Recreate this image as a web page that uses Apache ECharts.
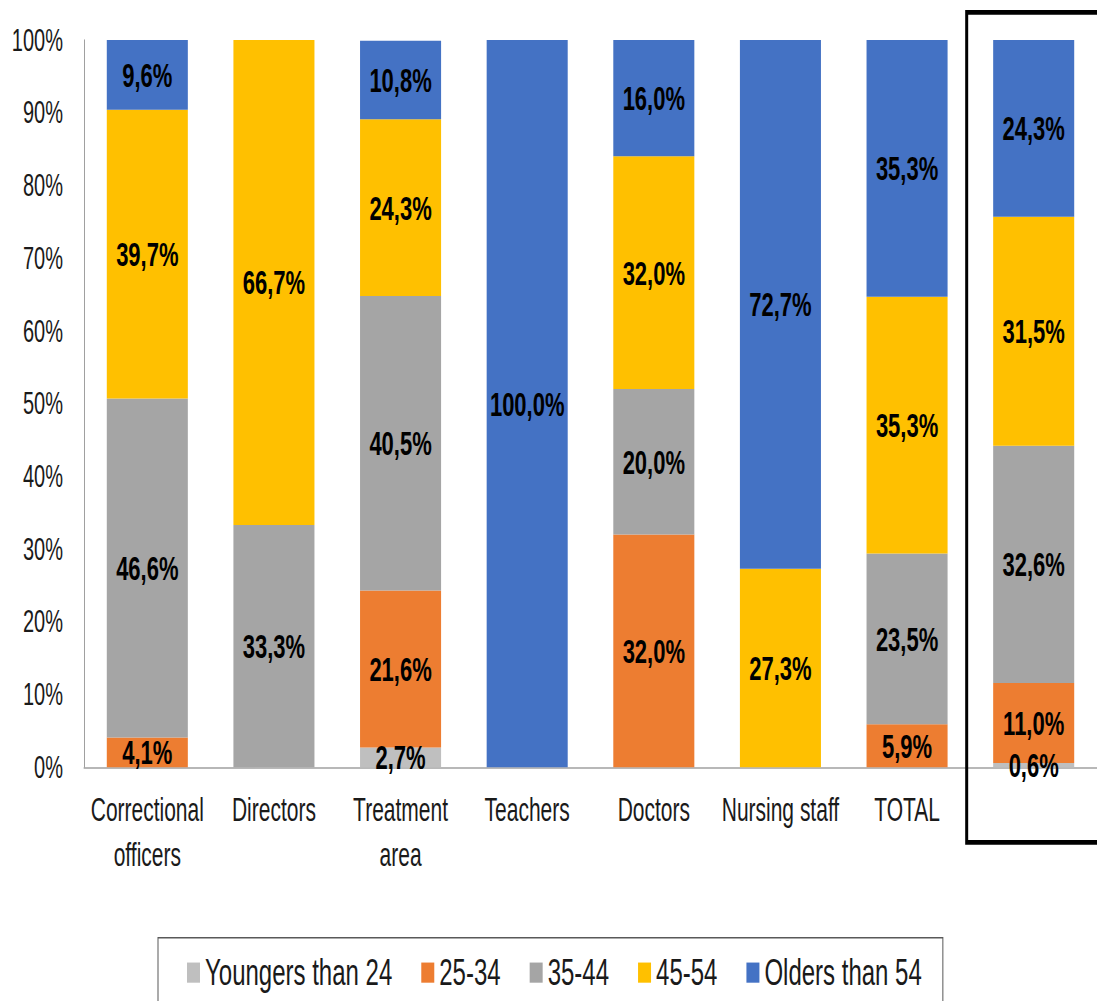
<!DOCTYPE html>
<html>
<head>
<meta charset="utf-8">
<script src="https://cdn.jsdelivr.net/npm/echarts@6/dist/echarts.min.js"></script>
<style>
  html, body { margin: 0; padding: 0; background: #fff; width: 1097px; height: 1001px; }
  #wrap { position: relative; width: 1097px; height: 1001px; }
  /* the chart is laid out at a reduced height, then stretched vertically */
  #chart { position: absolute; left: 0; top: 0; width: 1097px; height: 645.8px; transform: scaleY(1.55); transform-origin: 0 0; }
</style>
</head>
<body>
<div id="wrap"><div id="chart"></div></div>
<script>
// Staff groups along the x axis (the last, boxed bar has no caption)
const categories = ['Correctional\nofficers', 'Directors', 'Treatment\narea', 'Teachers', 'Doctors', 'Nursing staff', 'TOTAL', ''];

// Share of each age band per group, in percent
const youngers24 = [0, 0, 2.7, 0, 0, 0, 0, 0.6];
const age25_34   = [4.1, 0, 21.6, 0, 32.0, 0, 5.9, 11.0];
const age35_44   = [46.6, 33.3, 40.5, 0, 20.0, 0, 23.5, 32.6];
const age45_54   = [39.7, 66.7, 24.3, 0, 32.0, 27.3, 35.3, 31.5];
const olders54   = [9.6, 0, 10.8, 100.0, 16.0, 72.7, 35.3, 24.3];

const seriesNames = ['Youngers than 24', '25-34', '35-44', '45-54', 'Olders than 54'];
const seriesData = [youngers24, age25_34, age35_44, age45_54, olders54];
const colors = ['#BFBFBF', '#ED7D31', '#A5A5A5', '#FFC000', '#4472C4'];

// y axis ticks
const yMin = 0, yMax = 100, yStep = 10;

const FONT = "'Liberation Sans', Arial, sans-serif";

const fmt = v => v.toFixed(1).replace('.', ',') + '%';

const chart = echarts.init(document.getElementById('chart'), null, { renderer: 'svg' });

const option = {
  animation: false,
  color: colors,
  grid: { left: 84, right: -2, top: 25.8, bottom: 151 },
  legend: {
    left: 158,
    top: 605,
    padding: [10.5, 21, 40, 29],
    itemWidth: 13,
    itemHeight: 13,
    itemGap: 29,
    icon: 'rect',
    borderColor: '#595959',
    borderWidth: 1,
    textStyle: { fontFamily: FONT, fontSize: 24, color: '#1a1a1a' },
    data: seriesNames
  },
  xAxis: {
    type: 'category',
    data: categories,
    axisLine: { lineStyle: { color: '#a0a0a0', width: 1 } },
    axisTick: { show: false },
    axisLabel: {
      interval: 0,
      margin: 13,
      fontFamily: FONT,
      fontSize: 21,
      lineHeight: 29,
      color: '#1a1a1a'
    }
  },
  yAxis: {
    type: 'value',
    min: yMin,
    max: yMax,
    interval: yStep,
    axisLine: { show: true, lineStyle: { color: '#a0a0a0', width: 1 } },
    axisTick: { show: false },
    splitLine: { show: false },
    axisLabel: {
      margin: 21,
      fontFamily: FONT,
      fontSize: 20,
      color: '#1a1a1a',
      formatter: '{value}%'
    }
  },
  series: seriesNames.map((name, i) => ({
    name: name,
    type: 'bar',
    stack: 'share',
    barCategoryGap: '36%',
    data: seriesData[i],
    label: {
      show: true,
      position: 'inside',
      fontFamily: FONT,
      fontSize: 22,
      fontWeight: 'bold',
      color: '#000',
      formatter: p => (p.value > 0 ? fmt(p.value) : '')
    },
    emphasis: { disabled: true }
  }))
};

chart.setOption(option);

// Frame around the last (overall) bar
const lastX = chart.convertToPixel({ xAxisIndex: 0 }, categories.length - 1);
chart.setOption({
  graphic: [{
    type: 'rect',
    z: 100,
    shape: { x: lastX - 67, y: 8, width: 200, height: 535.5 },
    style: { fill: 'none', stroke: '#000', lineWidth: 3 }
  }]
});
</script>
</body>
</html>
